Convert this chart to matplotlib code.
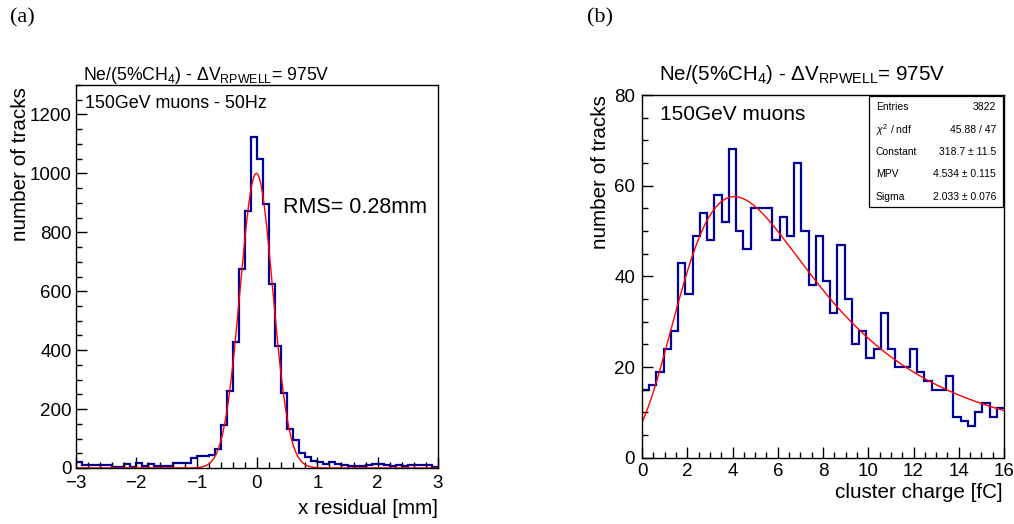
import numpy as np
import matplotlib
matplotlib.use('Agg')
import matplotlib.pyplot as plt
from matplotlib.ticker import MultipleLocator
from matplotlib.patches import Rectangle

# ---------------- data ----------------
res_range = (-3.0, 3.0)
res_nbins = 60
res_counts = [20, 10, 10, 10, 10, 10, 4, 4, 12, 4,
              18, 7, 12, 6, 6, 6, 18, 18, 17, 34,
              40, 42, 45, 63, 145, 263, 427, 676, 871, 1124,
              1049, 896, 623, 414, 254, 131, 94, 50, 38, 25,
              22, 14, 20, 12, 10, 8, 8, 7, 9, 12,
              14, 10, 8, 10, 7, 10, 10, 9, 10, 3]
gaus_const, gaus_mean, gaus_sigma = 1000.0, -0.01, 0.27

q_range = (0.0, 16.0)
q_nbins = 50
q_counts = [15, 16, 19, 24, 28, 43, 36, 49, 54, 48,
            58, 52, 68, 50, 46, 55, 55, 55, 48, 53,
            49, 65, 50, 38, 49, 39, 32, 47, 35, 25,
            28, 22, 24, 32, 24, 20, 20, 24, 19, 17,
            15, 15, 18, 9, 8, 7, 10, 12, 9, 11]
landau_const, landau_mpv, landau_sigma = 318.7, 4.534, 2.033

stats_labels = ['Entries', r'$\chi^{2}$ / ndf', 'Constant', 'MPV', 'Sigma']
stats_values = ['3822', '45.88 / 47', '318.7 \u00b1 11.5', '4.534 \u00b1 0.115', '2.033 \u00b1 0.076']

title_text = r'Ne/(5%CH$_{4}$) - $\Delta$V$_{\rm RPWELL}$= 975V'

# ---------------- style ----------------
plt.rcParams['font.family'] = ['Liberation Sans', 'DejaVu Sans']
plt.rcParams['mathtext.fontset'] = 'custom'
plt.rcParams['mathtext.rm'] = 'Liberation Sans'
plt.rcParams['mathtext.it'] = 'Liberation Sans:italic'
plt.rcParams['mathtext.bf'] = 'Liberation Sans:bold'

W, H = 1014, 524
fig = plt.figure(figsize=(W / 100, H / 100), dpi=100)


def fx(x):
    return x / W


def fy(y):
    return 1 - y / H


def landau_pdf(lam):
    t = np.linspace(1e-9, 40, 20001)
    lam = np.atleast_1d(lam)
    out = np.empty_like(lam, dtype=float)
    for i, l in enumerate(lam):
        f = np.exp(-t * np.log(t) - l * t) * np.sin(np.pi * t)
        out[i] = np.trapezoid(f, t) / np.pi
    return out


HIST_COLOR = '#000099'


def style_axes(ax, xmaj, xmin, ymaj, ymin, xpad, ypad):
    for s in ax.spines.values():
        s.set_linewidth(1.0)
    ax.xaxis.set_major_locator(MultipleLocator(xmaj))
    ax.xaxis.set_minor_locator(MultipleLocator(xmin))
    ax.yaxis.set_major_locator(MultipleLocator(ymaj))
    ax.yaxis.set_minor_locator(MultipleLocator(ymin))
    ax.tick_params(which='both', direction='in', top=False, right=False,
                   labelsize=13.5, width=1.0)
    ax.tick_params(which='major', length=8)
    ax.tick_params(which='minor', length=4)
    ax.tick_params(axis='x', which='major', pad=xpad)
    ax.tick_params(axis='y', which='major', pad=ypad)


# ---------------- left panel ----------------
axL = fig.add_axes([fx(76), fy(468), fx(438) - fx(76), fy(85) - fy(468)])
edgesL = np.linspace(res_range[0], res_range[1], res_nbins + 1)
axL.stairs(res_counts, edgesL, color=HIST_COLOR, lw=1.6, baseline=None)
xg = np.linspace(res_range[0], res_range[1], 1200)
axL.plot(xg, gaus_const * np.exp(-0.5 * ((xg - gaus_mean) / gaus_sigma) ** 2),
         color='red', lw=1.0)
axL.set_xlim(*res_range)
axL.set_ylim(0, 1300)
style_axes(axL, 1, 0.2, 200, 50, 5, 3)
axL.text(0.025, 0.975, '150GeV muons - 50Hz', transform=axL.transAxes,
         ha='left', va='top', fontsize=12.9)
axL.text(0.572, 0.68, 'RMS= 0.28mm', transform=axL.transAxes,
         ha='left', va='center', fontsize=15.5)

fig.text(fx(83), fy(75), title_text, ha='left', va='center', fontsize=12.7)
fig.text(fx(21), fy(87), 'number of tracks', rotation=90, ha='center', va='top',
         fontsize=14.9)
fig.text(fx(438), fy(508), 'x residual [mm]', ha='right', va='center', fontsize=14.9)
fig.text(fx(10), fy(18), '(a)', ha='left', va='center', fontsize=16,
         family='Liberation Serif')

# ---------------- right panel ----------------
axR = fig.add_axes([fx(642), fy(457.7), fx(1004) - fx(642), fy(95) - fy(457.7)])
edgesR = np.linspace(q_range[0], q_range[1], q_nbins + 1)
axR.stairs(q_counts, edgesR, color=HIST_COLOR, lw=1.6, baseline=None)
xl = np.linspace(q_range[0], q_range[1], 400)
axR.plot(xl, landau_const * landau_pdf((xl - landau_mpv) / landau_sigma),
         color='red', lw=1.0)
axR.set_xlim(*q_range)
axR.set_ylim(0, 80)
style_axes(axR, 2, 0.5, 20, 5, 4, 5)
axR.text(0.05, 0.945, '150GeV muons', transform=axR.transAxes,
         ha='left', va='center', fontsize=15)

# stats box
bx0, by0, bx1, by1 = 869, 96, 1003, 207
rect = Rectangle((fx(bx0), fy(by1)), fx(bx1) - fx(bx0), fy(by0) - fy(by1),
                 transform=fig.transFigure, facecolor='white', edgecolor='black',
                 lw=0.9, zorder=5)
fig.patches.append(rect)
row_y = [107, 130, 152, 174, 197]
for lab, val, yy in zip(stats_labels, stats_values, row_y):
    fig.text(fx(876), fy(yy), lab, ha='left', va='center', fontsize=7.5, zorder=6)
    fig.text(fx(996), fy(yy), val, ha='right', va='center', fontsize=7.5, zorder=6)

fig.text(fx(659), fy(75), title_text, ha='left', va='center', fontsize=14.8)
fig.text(fx(601), fy(95), 'number of tracks', rotation=90, ha='center', va='top',
         fontsize=14.9)
fig.text(fx(1003), fy(493), 'cluster charge [fC]', ha='right', va='center',
         fontsize=14.9)
fig.text(fx(587), fy(18), '(b)', ha='left', va='center', fontsize=16,
         family='Liberation Serif')

fig.savefig('out.png', dpi=100)
